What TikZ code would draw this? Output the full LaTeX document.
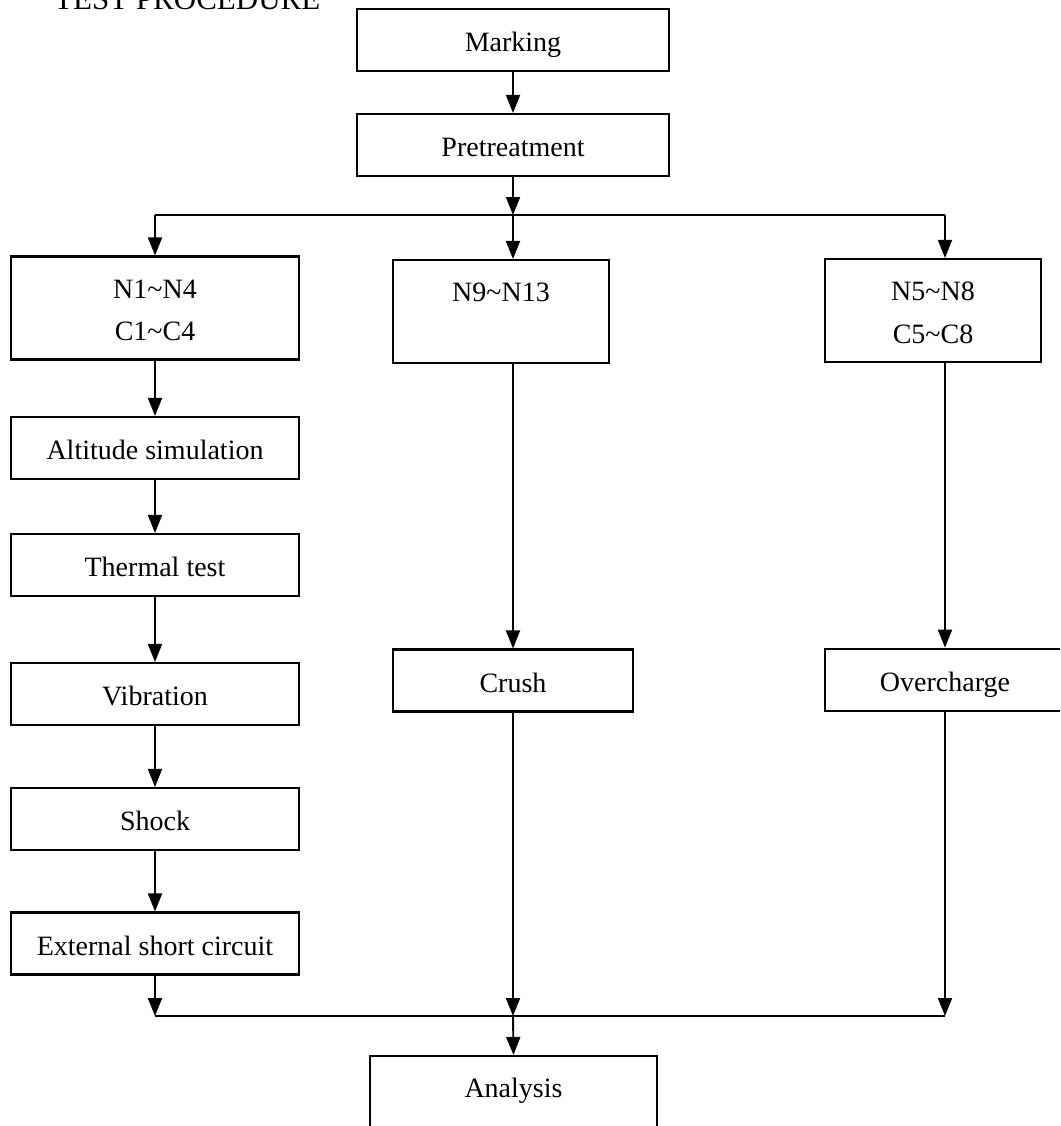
\documentclass[tikz,border=0pt]{standalone}
\usepackage{fontspec}
\setmainfont{Liberation Serif}
\usetikzlibrary{arrows.meta}
\begin{document}
\begin{tikzpicture}[x=1pt,y=-1pt,
  box/.style={draw, line width=2.1pt, minimum height=62pt, inner sep=0pt, text height=23pt, text depth=0pt, font=\fontsize{28}{42.4}\selectfont},
  bigbox/.style={box, minimum height=103pt, align=center, text height=65.4pt, text depth=0pt},
  conn/.style={line width=1.9pt},
  arr/.style={conn, -{Triangle[width=14pt,length=18pt]}}]
\clip (0,0) rectangle (1060,1126);
\fill[white] (0,0) rectangle (1060,1126);
\node[anchor=base west, inner sep=0pt, font=\fontsize{31}{36}\selectfont] (title) at (54,10) {TEST PROCEDURE};
\node[box, minimum width=312pt] (mark) at (513,40) {Marking};
\node[box, minimum width=312pt] (pre) at (513,145) {Pretreatment};
\node[bigbox, minimum width=288pt] (n14) at (155,308) {N1\textasciitilde N4\\C1\textasciitilde C4};
\node[bigbox, minimum width=216pt] (n913) at (501,311.5) {N9\textasciitilde N13\\\mbox{}};
\node[bigbox, minimum width=216pt] (n58) at (933,310.5) {N5\textasciitilde N8\\C5\textasciitilde C8};
\node[box, minimum width=288pt] (alt) at (155,448) {Altitude simulation};
\node[box, minimum width=288pt] (therm) at (155,565) {Thermal test};
\node[box, minimum width=288pt] (vib) at (155,694) {Vibration};
\node[box, minimum width=288pt] (shock) at (155,819) {Shock};
\node[box, minimum width=288pt] (ext) at (155,943.5) {External short circuit};
\node[box, minimum width=240pt] (crush) at (513,680.5) {Crush};
\node[box, minimum width=240pt] (over) at (945,679.7) {Overcharge};
\node[bigbox, minimum width=287pt] (ana) at (513.5,1107.5) {Analysis\\\mbox{}};
\coordinate (split) at (513,215);
\coordinate (sl) at (155,215);
\coordinate (sr) at (945,215);
\coordinate (jl) at (155,1016);
\coordinate (jm) at (513,1016);
\coordinate (jr) at (945,1016);
\draw[arr] (mark.south) -- (pre.north);
\draw[arr] (pre.south) -- (split);
\draw[conn] (sl) -- (sr);
\draw[arr] (sl) -- (n14.north);
\draw[arr] (split) -- (split |- n913.north);
\draw[arr] (sr) -- (sr |- n58.north);
\draw[arr] (n14.south) -- (alt.north);
\draw[arr] (alt.south) -- (therm.north);
\draw[arr] (therm.south) -- (vib.north);
\draw[arr] (vib.south) -- (shock.north);
\draw[arr] (shock.south) -- (ext.north);
\draw[arr] (split |- n913.south) -- (crush.north);
\draw[arr] (sr |- n58.south) -- (over.north);
\draw[arr] (ext.south) -- (jl);
\draw[arr] (crush.south) -- (jm);
\draw[arr] (over.south) -- (jr);
\draw[conn] (jl) -- (jr);
\draw[arr] (jm) -- (ana.north);
\end{tikzpicture}
\end{document}
